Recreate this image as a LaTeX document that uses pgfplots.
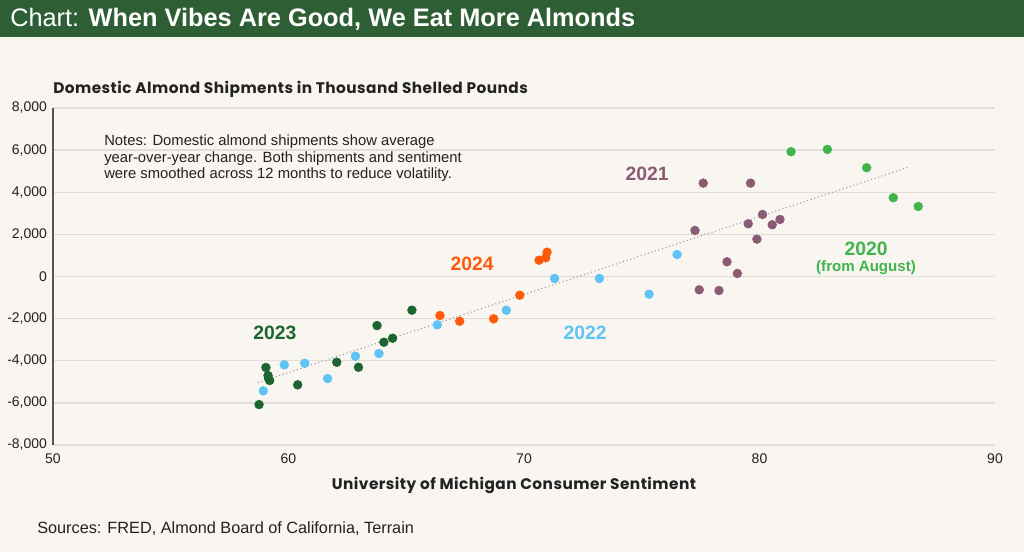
\documentclass[border=0pt]{standalone}
\usepackage{fontspec}
\setmainfont{Liberation Sans}
\newfontfamily\wide{Poppins}[LetterSpace=3]
\usepackage{pgfplots}
\pgfplotsset{compat=1.18}
\definecolor{bg}{HTML}{F9F5F1}
\definecolor{hdr}{HTML}{2E5E34}
\definecolor{gridc}{HTML}{E2DDD8}
\definecolor{axc}{HTML}{555555}
\definecolor{txt}{HTML}{222222}
\definecolor{cDG}{HTML}{1D6530}
\definecolor{cLB}{HTML}{5EC3F5}
\definecolor{cOR}{HTML}{FF5A0A}
\definecolor{cPU}{HTML}{8A5C73}
\definecolor{cGR}{HTML}{3FB54B}
\begin{document}
\begin{tikzpicture}[x=0.75pt,y=0.75pt]
\fill[bg] (0,0) rectangle (1024,552);
\fill[hdr] (0,515) rectangle (1024,552);
\node[anchor=west,text=white,font=\fontsize{19}{22}\selectfont,inner sep=0] at (10,533) {Chart: \textbf{When Vibes Are Good, We Eat More Almonds}};
\begin{axis}[
  at={(39.75pt,80.25pt)}, anchor=south west,
  width=706.5pt, height=252.75pt, scale only axis,
  xmin=50, xmax=90, ymin=-8000, ymax=8000,
  xtick={50,60,70,80,90},
  ytick={-8000,-6000,-4000,-2000,0,2000,4000,6000,8000},
  axis x line*=bottom, axis y line*=left,
  x axis line style={draw=gridc, line width=1pt, -},
  y axis line style={draw=axc, line width=1.3pt, -},
  ymajorgrids, grid style={draw=gridc, line width=1pt},
  major tick length=0pt,
  tick label style={font=\fontsize{10.5}{12}\selectfont, text=txt},
  /pgf/number format/assume math mode=true,
  /pgf/number format/1000 sep={,},
  yticklabel style={xshift=-1pt},
  xticklabel style={yshift=-3pt},
  clip=false,
  every axis plot/.append style={only marks, mark=*, mark size=3.3pt},
]
\addplot[cDG, mark options={draw=cDG, fill=cDG}] coordinates {
(58.75,-6080) (59.04,-4320) (59.13,-4700) (59.2,-4940) (59.15,-4830)
(60.39,-5145) (62.05,-4070) (62.97,-4310) (63.76,-2330) (64.05,-3120)
(64.42,-2930) (65.24,-1600)};
\addplot[cLB, mark options={draw=cLB, fill=cLB}] coordinates {
(58.93,-5430) (59.82,-4195) (60.69,-4120) (61.66,-4846) (62.84,-3786)
(63.84,-3658) (66.32,-2295) (69.25,-1601) (71.3,-95) (73.2,-95)
(75.31,-840) (76.5,1045)};
\addplot[cOR, mark options={draw=cOR, fill=cOR}] coordinates {
(66.43,-1853) (67.27,-2123) (68.71,-2010) (69.82,-888) (70.64,774)
(70.92,888) (70.98,1154)};
\addplot[cPU, mark options={draw=cPU, fill=cPU}] coordinates {
(77.61,4432) (79.62,4432) (77.26,2185) (80.13,2945) (79.52,2503)
(80.54,2456) (80.87,2708) (79.89,1772) (78.62,698) (79.06,143)
(77.44,-632) (78.28,-665)};
\addplot[cGR, mark options={draw=cGR, fill=cGR}] coordinates {
(81.34,5924) (82.88,6033) (84.55,5164) (85.68,3739) (86.74,3325)};
\addplot[no marks, sharp plot, draw=gray!80, line width=0.8pt, dotted] coordinates {(58.7,-5040) (86.3,5180)};
\end{axis}
\node[anchor=west,inner sep=0,font=\wide\fontsize{11.5}{13}\selectfont\bfseries,text=txt] at (53,463) {Domestic Almond Shipments in Thousand Shelled Pounds};
\node[inner sep=0,font=\wide\fontsize{11.5}{13}\selectfont\bfseries,text=txt] at (514,67) {University of Michigan Consumer Sentiment};
\node[anchor=west,inner sep=0,font=\fontsize{12.2}{14}\selectfont,text=txt] at (37,23) {Sources: FRED, Almond Board of California, Terrain};
\node[anchor=west,inner sep=0,align=left,font=\fontsize{11.1}{12.5}\selectfont,text=txt] at (104,393.5) {Notes: Domestic almond shipments show average\\year-over-year change. Both shipments and sentiment\\were smoothed across 12 months to reduce volatility.};
\node[inner sep=0,font=\fontsize{14.5}{16}\selectfont\bfseries,text=cDG] at (275,219) {2023};
\node[inner sep=0,font=\fontsize{14.5}{16}\selectfont\bfseries,text=cOR] at (472,288) {2024};
\node[inner sep=0,font=\fontsize{14.5}{16}\selectfont\bfseries,text=cLB] at (585,219) {2022};
\node[inner sep=0,font=\fontsize{14.5}{16}\selectfont\bfseries,text=cPU] at (647,378) {2021};
\node[inner sep=0,font=\fontsize{14.5}{16}\selectfont\bfseries,text=cGR] at (866,303) {2020};
\node[inner sep=0,font=\fontsize{11.3}{13}\selectfont\bfseries,text=cGR] at (866,284) {(from August)};
\end{tikzpicture}
\end{document}
